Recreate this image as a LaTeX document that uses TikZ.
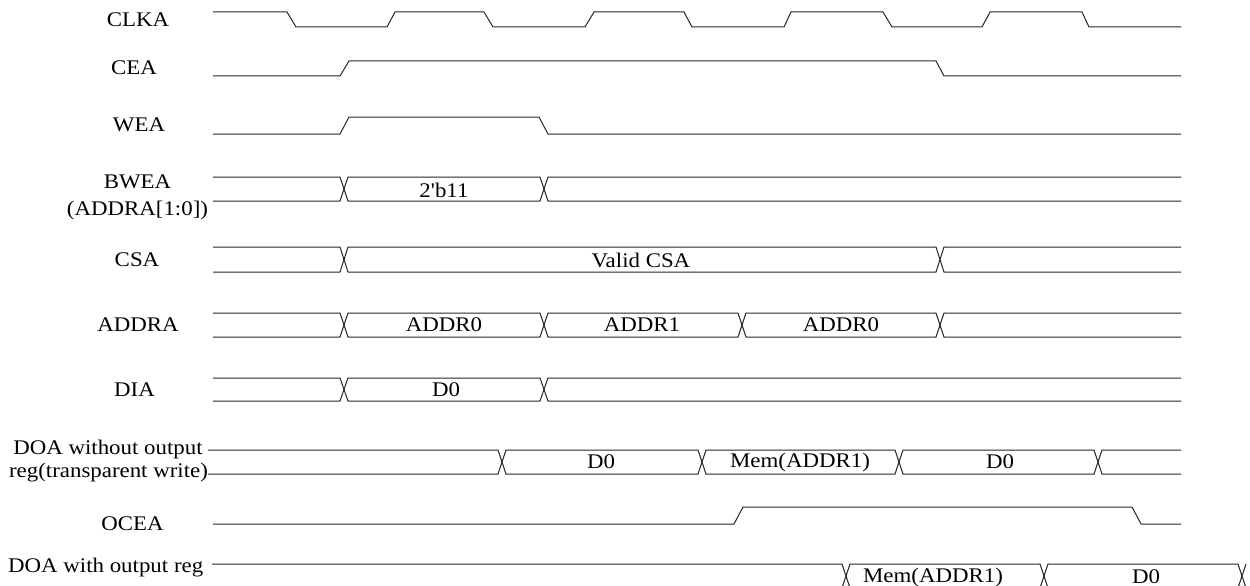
\documentclass[tikz,border=0pt]{standalone}
\usepackage{fontspec}
\setmainfont{Liberation Serif}[Ligatures=TeXOff, FakeStretch=1.1]
\begin{document}
\begin{tikzpicture}[x=1pt,y=-1pt,
  sig/.style={line width=1pt, draw=black!85, line join=miter},
  lbl/.style={font=\fontsize{20.8}{24}\selectfont, inner sep=0pt, anchor=center},
  val/.style={font=\fontsize{20.8}{24}\selectfont, inner sep=0pt, anchor=center}]
\useasboundingbox (0,0) rectangle (1250,586);

% ---------- labels ----------
\node[lbl] (lclka) at (138,20) {CLKA};
\node[lbl] (lcea)  at (134,68) {CEA};
\node[lbl] (lwea)  at (139,125) {WEA};
\node[lbl] (lbwea) at (137.5,182) {BWEA};
\node[lbl] (lbwea2) at (137.5,210) {(ADDRA[1:0])};
\node[lbl] (lcsa)  at (137,260) {CSA};
\node[lbl] (laddra) at (138,325) {ADDRA};
\node[lbl] (ldia)  at (134.5,390) {DIA};
\node[lbl] (ldoa1) at (108,449) {DOA without output};
\node[lbl] (ldoa2) at (108.5,473) {reg(transparent write)};
\node[lbl] (locea) at (132.5,524) {OCEA};
\node[lbl] (ldoa3) at (105.7,568) {DOA with output reg};

% ---------- CLKA ----------
\draw[sig] (213,12) -- (287,12) -- (296,27) -- (387,27) -- (395,12) -- (484,12) -- (493,27)
  -- (585,27) -- (594,12) -- (684,12) -- (692,27) -- (784,27) -- (791,12) -- (883,12)
  -- (892,27) -- (982,27) -- (990,12) -- (1082,12) -- (1089,27) -- (1181,27);
% ---------- CEA ----------
\draw[sig] (213,76) -- (340,76) -- (349,61) -- (936,61) -- (944,76) -- (1181,76);
% ---------- WEA ----------
\draw[sig] (213,134) -- (340,134) -- (349,117) -- (539,117) -- (548,134) -- (1181,134);
% ---------- OCEA ----------
\draw[sig] (213,524) -- (734,524) -- (743,507) -- (1132,507) -- (1141,524) -- (1181,524);

% ---------- BWEA ----------
\draw[sig] (213,177) -- (340,177) -- (348,201) -- (540,201) -- (548,177) -- (1181,177);
\draw[sig] (213,201) -- (340,201) -- (348,177) -- (540,177) -- (548,201) -- (1181,201);
\node[val] (v2b11) at (444,190) {2'b11};

% ---------- CSA ----------
\draw[sig] (213,247) -- (340,247) -- (348,272) -- (936,272) -- (944,247) -- (1181,247);
\draw[sig] (213,272) -- (340,272) -- (348,247) -- (936,247) -- (944,272) -- (1181,272);
\node[val] (vcsa) at (641,260) {Valid CSA};

% ---------- ADDRA ----------
\draw[sig] (213,313) -- (340,313) -- (348,337) -- (540,337) -- (548,313) -- (738,313) -- (746,337) -- (936,337) -- (944,313) -- (1181,313);
\draw[sig] (213,337) -- (340,337) -- (348,313) -- (540,313) -- (548,337) -- (738,337) -- (746,313) -- (936,313) -- (944,337) -- (1181,337);
\node[val] (va0) at (444,325) {ADDR0};
\node[val] (va1) at (642,325) {ADDR1};
\node[val] (va2) at (841,325) {ADDR0};

% ---------- DIA ----------
\draw[sig] (213,378) -- (340,378) -- (348,401) -- (540,401) -- (548,378) -- (1181,378);
\draw[sig] (213,401) -- (340,401) -- (348,378) -- (540,378) -- (548,401) -- (1181,401);
\node[val] (vd0) at (446,390) {D0};

% ---------- DOA without output reg ----------
\draw[sig] (208,450) -- (498,450) -- (506,474) -- (698,474) -- (706,450) -- (895,450) -- (903,474) -- (1094,474) -- (1102,450) -- (1181,450);
\draw[sig] (208,474) -- (498,474) -- (506,450) -- (698,450) -- (706,474) -- (895,474) -- (903,450) -- (1094,450) -- (1102,474) -- (1181,474);
\node[val] (vo1) at (601,462) {D0};
\node[val] (vo2) at (800,462) {Mem(ADDR1)};
\node[val] (vo3) at (1000,462) {D0};

% ---------- DOA with output reg ----------
\draw[sig] (212,564) -- (842,564) -- (850,588) -- (1040,588) -- (1048,564) -- (1238,564) -- (1246,588);
\draw[sig] (212,588) -- (842,588) -- (850,564) -- (1040,564) -- (1048,588) -- (1238,588) -- (1246,564);
\node[val] (vr1) at (933,577) {Mem(ADDR1)};
\node[val] (vr2) at (1146,577) {D0};
\end{tikzpicture}
\end{document}
